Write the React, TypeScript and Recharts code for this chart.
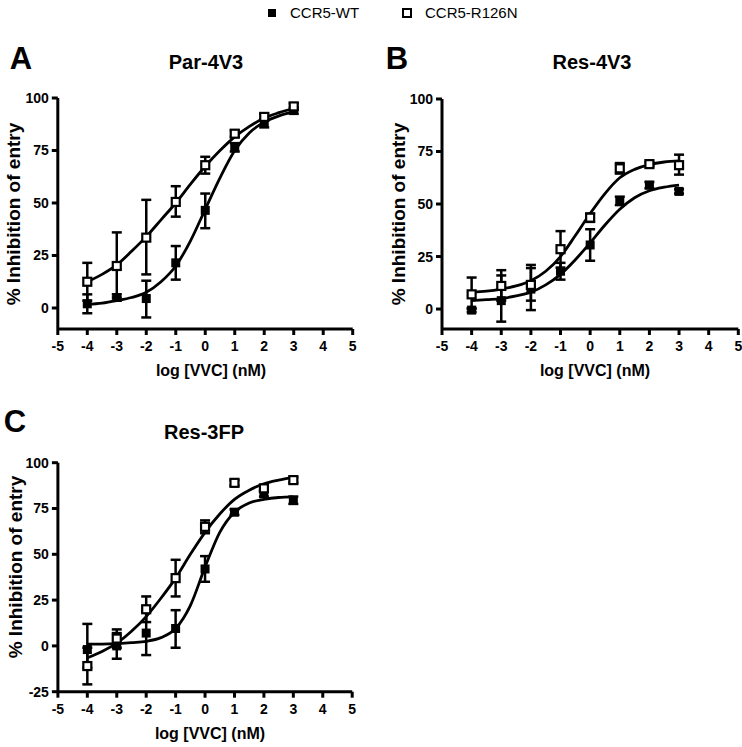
import { ComposedChart, Line, Scatter, ErrorBar, XAxis, YAxis } from 'recharts'

const FONT = '"Liberation Sans", Arial, Helvetica, sans-serif'

const doses = [-4, -3, -2, -1, 0, 1, 2, 3]
const fitX = [-4, -3.5, -3, -2.5, -2, -1.5, -1, -0.5, 0, 0.5, 1, 1.5, 2, 2.5, 3]
const xTicks = [-5, -4, -3, -2, -1, 0, 1, 2, 3, 4, 5]

// A: Par-4V3
const aWt = [2, 5, 4.5, 21.5, 46.5, 76.5, 88, 94]
const aWtErr = [[4.5, 4.5], [1.5, 1.5], [9, 8.5], [8, 8], [8.5, 8], [2, 2], [2, 2], [1.5, 1.5]]
const aR = [12.5, 20, 33.5, 50.5, 68, 83, 91, 96]
const aRErr = [[9, 9], [15, 16], [17.5, 18], [7, 7.5], [4, 4], [1.5, 1.5], [1.5, 1.5], [1.5, 1.5]]
const aWtFit = [1.7, 2.3, 3.5, 5, 7.5, 12.5, 20, 32, 47, 62, 75, 83.5, 88.5, 91.5, 93.5]
const aRFit = [12.5, 16, 20.5, 27, 34, 42, 50, 59, 67.5, 75, 81.5, 86.5, 90.5, 93, 95]

// B: Res-4V3
const bWt = [-0.5, 4, 9.5, 18, 30.5, 51.5, 59, 56]
const bWtErr = [[1, 1], [10, 12], [10, 10], [4, 4], [7.5, 7.5], [2, 2], [1.5, 1.5], [1, 1]]
const bR = [7, 11, 11.5, 28.5, 43.5, 67, 69, 68.5]
const bRErr = [[7, 8], [7, 7.5], [7.5, 9.5], [8.8, 8.6], [2, 2], [2.5, 2.5], [1, 1], [4.5, 5]]
const bWtFit = [4, 4.5, 5, 6.3, 8, 11.5, 16.5, 23.5, 31.5, 40, 47.5, 53, 56.3, 58, 59]
const bRFit = [8, 8.5, 9.5, 11, 13.5, 18, 25, 35, 45.5, 55, 62.5, 66.5, 68.8, 70, 70.5]

// C: Res-3FP
const cWt = [-2, 0, 7, 9.5, 42, 73, 83, 79.5]
const cWtErr = [[10, 14], [7, 7], [12, 12], [10.5, 10], [7, 7], [1.5, 1.5], [1.5, 1.5], [2, 2]]
const cR = [-11, 4, 20, 37, 65, 89, 86, 90.5]
const cRErr = [[10, 10], [5, 5], [7, 7], [10, 10], [3.5, 3.5], [1.5, 1.5], [1.5, 1.5], [1.5, 1.5]]
const cWtFit = [1, 1, 1.2, 1.8, 2.5, 4.5, 9.5, 22, 43, 62, 73, 78, 80, 81, 81.3]
const cRFit = [-6.5, -3, 1.5, 8, 16, 26, 37, 50, 62, 72, 80, 85, 88.5, 90.5, 92]

const filledSquare = (p: any) => <rect x={p.cx - 4.5} y={p.cy - 4.5} width={9} height={9} fill="#000" />
const openSquare = (p: any) => (
  <rect x={p.cx - 4} y={p.cy - 4} width={8} height={8} fill="#fff" stroke="#000" strokeWidth={2.2} />
)

const pts = (ys: number[], errs?: number[][]) => doses.map((x, i) => ({ x, y: ys[i], e: errs ? errs[i] : 0 }))
const fit = (ys: number[]) => fitX.map((x, i) => ({ x, y: ys[i] }))

const axisStroke = { stroke: '#000', strokeWidth: 3 }
const tickText = { fill: '#000', fontSize: 14, fontWeight: 700 }

function Panel(props: any) {
  const { left, top, width, height, margin, yDomain, yTicks, wt, wtErr, r, rErr, wtFit, rFit } = props
  return (
    <div style={{ position: 'absolute', left, top }}>
      <ComposedChart width={width} height={height} margin={margin}>
        <XAxis type="number" dataKey="x" domain={[-5, 5]} ticks={xTicks} allowDataOverflow
          height={50} tickSize={6} tickMargin={6} fontSize={14} fontWeight={700} fontFamily={FONT}
          tick={tickText} tickLine={axisStroke} axisLine={axisStroke} />
        <YAxis type="number" domain={yDomain} ticks={yTicks} allowDataOverflow
          width={40} tickSize={6} tickMargin={3} fontSize={14} fontWeight={700} fontFamily={FONT}
          tick={tickText} tickLine={axisStroke} axisLine={axisStroke} />
        <Line data={fit(wtFit)} dataKey="y" type="monotone" stroke="#000" strokeWidth={2.8} dot={false} isAnimationActive={false} />
        <Line data={fit(rFit)} dataKey="y" type="monotone" stroke="#000" strokeWidth={2.8} dot={false} isAnimationActive={false} />
        <Scatter data={pts(wt, wtErr)} dataKey="y" shape={filledSquare} isAnimationActive={false}>
          <ErrorBar dataKey="e" direction="y" width={5} stroke="#000" strokeWidth={2.5} isAnimationActive={false} />
        </Scatter>
        <Scatter data={pts(r, rErr)} dataKey="y" shape={openSquare} isAnimationActive={false}>
          <ErrorBar dataKey="e" direction="y" width={5} stroke="#000" strokeWidth={2.5} isAnimationActive={false} />
        </Scatter>
      </ComposedChart>
    </div>
  )
}

function Text({ x, y, size, children, rotate = false, weight = 700 }: any) {
  return (
    <div style={{
      position: 'absolute', left: x, top: y, whiteSpace: 'nowrap', fontFamily: FONT, fontSize: size,
      fontWeight: weight, color: '#000', lineHeight: 1,
      transform: `translate(-50%, -50%)${rotate ? ' rotate(-90deg)' : ''}`,
    }}>
      {children}
    </div>
  )
}

export default function App() {
  return (
    <div style={{ position: 'absolute', left: 0, top: 0, width: 742, height: 747, background: '#fff', overflow: 'hidden' }}>
      {/* legend */}
      <div style={{ position: 'absolute', left: 267.5, top: 8.5, width: 8, height: 8, background: '#000' }} />
      <div style={{ position: 'absolute', left: 290, top: 5, fontFamily: FONT, fontSize: 15, lineHeight: '15px' }}>CCR5-WT</div>
      <div style={{ position: 'absolute', left: 402, top: 7.5, width: 10, height: 10, boxSizing: 'border-box', border: '2px solid #000' }} />
      <div style={{ position: 'absolute', left: 425, top: 5, fontFamily: FONT, fontSize: 15, lineHeight: '15px' }}>CCR5-R126N</div>

      <Panel left={0} top={0} width={370} height={390} margin={{ top: 98, right: 17.3, bottom: 11, left: 17.8 }}
        yDomain={[-10, 100]} yTicks={[0, 25, 50, 75, 100]}
        wt={aWt} wtErr={aWtErr} r={aR} rErr={aRErr} wtFit={aWtFit} rFit={aRFit} />
      <Panel left={370} top={0} width={372} height={390} margin={{ top: 99, right: 3.7, bottom: 11, left: 32 }}
        yDomain={[-9.5, 100]} yTicks={[0, 25, 50, 75, 100]}
        wt={bWt} wtErr={bWtErr} r={bR} rErr={bRErr} wtFit={bWtFit} rFit={bRFit} />
      <Panel left={0} top={390} width={370} height={357} margin={{ top: 72.7, right: 17.8, bottom: 5.3, left: 17.9 }}
        yDomain={[-25, 100]} yTicks={[-25, 0, 25, 50, 75, 100]}
        wt={cWt} wtErr={cWtErr} r={cR} rErr={cRErr} wtFit={cWtFit} rFit={cRFit} />

      <Text x={21} y={57.5} size={31}>A</Text>
      <Text x={397} y={57.5} size={31}>B</Text>
      <Text x={15} y={421} size={31}>C</Text>

      <Text x={206} y={62} size={20}>Par-4V3</Text>
      <Text x={592} y={62} size={20}>Res-4V3</Text>
      <Text x={204} y={432} size={20}>Res-3FP</Text>

      <Text x={13} y={214} size={19} rotate>% Inhibition of entry</Text>
      <Text x={398} y={214} size={19} rotate>% Inhibition of entry</Text>
      <Text x={15} y={567} size={19} rotate>% Inhibition of entry</Text>

      <Text x={211} y={371} size={16}>log [VVC] (nM)</Text>
      <Text x={595} y={371} size={16}>log [VVC] (nM)</Text>
      <Text x={210} y={734} size={16}>log [VVC] (nM)</Text>
    </div>
  )
}
